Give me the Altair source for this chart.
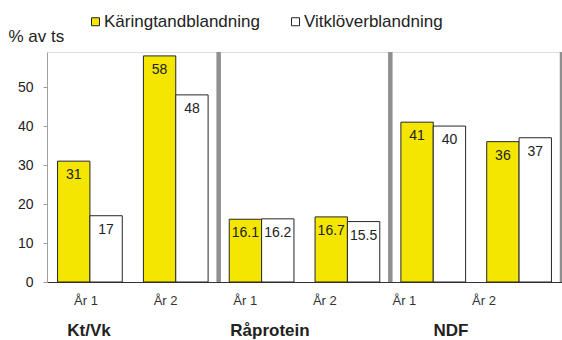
import altair as alt
import pandas as pd

# Chart data
groups = ["Kt/Vk", "Råprotein", "NDF"]
years = ["År 1", "År 2"]
series = ["Käringtandblandning", "Vitklöverblandning"]
karingtand = [31, 58, 16.1, 16.7, 41, 36]
vitklover = [17, 48, 16.2, 15.5, 40, 37]
y_ticks = [0, 10, 20, 30, 40, 50]

YELLOW = "#F4E600"
FONT = "Liberation Sans"
W, H = 515, 230

slots = [f"{g} {y}" for g in groups for y in years]
year_of_slot = [y for g in groups for y in years]

rows = []
for i, s in enumerate(slots):
    for name, vals in zip(series, [karingtand, vitklover]):
        rows.append({"slot": s, "series": name, "value": vals[i], "label": f"{vals[i]:g}"})
df = pd.DataFrame(rows)
slot_df = pd.DataFrame({"slot": slots, "year": year_of_slot})
group_df = pd.DataFrame({"group": groups})

x_bar = alt.Scale(domain=slots, paddingInner=0.246, paddingOuter=0.123)
y_scale = alt.Scale(domain=[0, 59], nice=False)

bars = alt.Chart(df).mark_bar(stroke="#262626", strokeWidth=1).encode(
    x=alt.X("slot:N", sort=slots, scale=x_bar,
            axis=alt.Axis(labels=False, ticks=False, title=None,
                          domainColor="#333333", domainWidth=1)),
    xOffset=alt.XOffset("series:N", sort=series),
    y=alt.Y("value:Q", scale=y_scale,
            axis=alt.Axis(values=y_ticks, grid=False, title="% av ts",
                          titleAngle=0, titleAlign="left", titleBaseline="alphabetic",
                          titleX=-39, titleY=-11, titleFontSize=17,
                          titleFontWeight="normal", titleColor="#222222",
                          titleFont=FONT, labelFont=FONT, labelFontSize=14,
                          labelColor="#222222", labelPadding=10, tickSize=4,
                          tickColor="#999999", domainColor="#a0a0a0")),
    color=alt.Color("series:N", sort=series,
                    scale=alt.Scale(domain=series, range=[YELLOW, "#ffffff"]),
                    legend=alt.Legend(orient="none", legendX=40, legendY=-39,
                                      direction="horizontal", title=None,
                                      symbolType="square", symbolSize=64,
                                      symbolStrokeColor="#222222", symbolStrokeWidth=1,
                                      symbolOpacity=1, labelFont=FONT, labelFontSize=17,
                                      labelColor="#222222", labelOffset=0,
                                      columnPadding=27, padding=0)),
)

bar_labels = alt.Chart(df).mark_text(baseline="top", dy=7, fontSize=14, font=FONT,
                                     color="#222222").encode(
    x=alt.X("slot:N", sort=slots, scale=x_bar, axis=None),
    xOffset=alt.XOffset("series:N", sort=series),
    y=alt.Y("value:Q", scale=y_scale),
    text="label:N",
)

year_labels = alt.Chart(slot_df).mark_text(baseline="alphabetic", fontSize=13, font=FONT,
                                           color="#333333").encode(
    x=alt.X("slot:N", sort=slots,
            scale=alt.Scale(type="point", range=[39, 437], padding=0), axis=None),
    y=alt.value(253),
    text="year:N",
)

group_labels = alt.Chart(group_df).mark_text(baseline="alphabetic", fontSize=17, font=FONT,
                                             fontWeight="bold", color="#222222").encode(
    x=alt.X("group:N", sort=groups,
            scale=alt.Scale(type="point", range=[42, 404], padding=0), axis=None),
    y=alt.value(284),
    text="group:N",
)

separators = alt.Chart(group_df).mark_rule(color="#8f8f8f", strokeWidth=4.5).encode(
    x=alt.X("group:N", sort=groups, bandPosition=1,
            scale=alt.Scale(type="band", paddingInner=0, paddingOuter=0), axis=None),
    y=alt.value(0),
    y2=alt.value(H),
)

chart = alt.layer(separators, bars, bar_labels, year_labels, group_labels).resolve_scale(
    x="independent"
).properties(
    width=W, height=H,
    autosize=alt.AutoSizeParams(type="none"),
    padding={"left": 47, "top": 52, "right": 0, "bottom": 58},
).configure_view(stroke=None).configure(font=FONT)

chart.save("out.html", embed_options={"renderer": "svg", "actions": False})
